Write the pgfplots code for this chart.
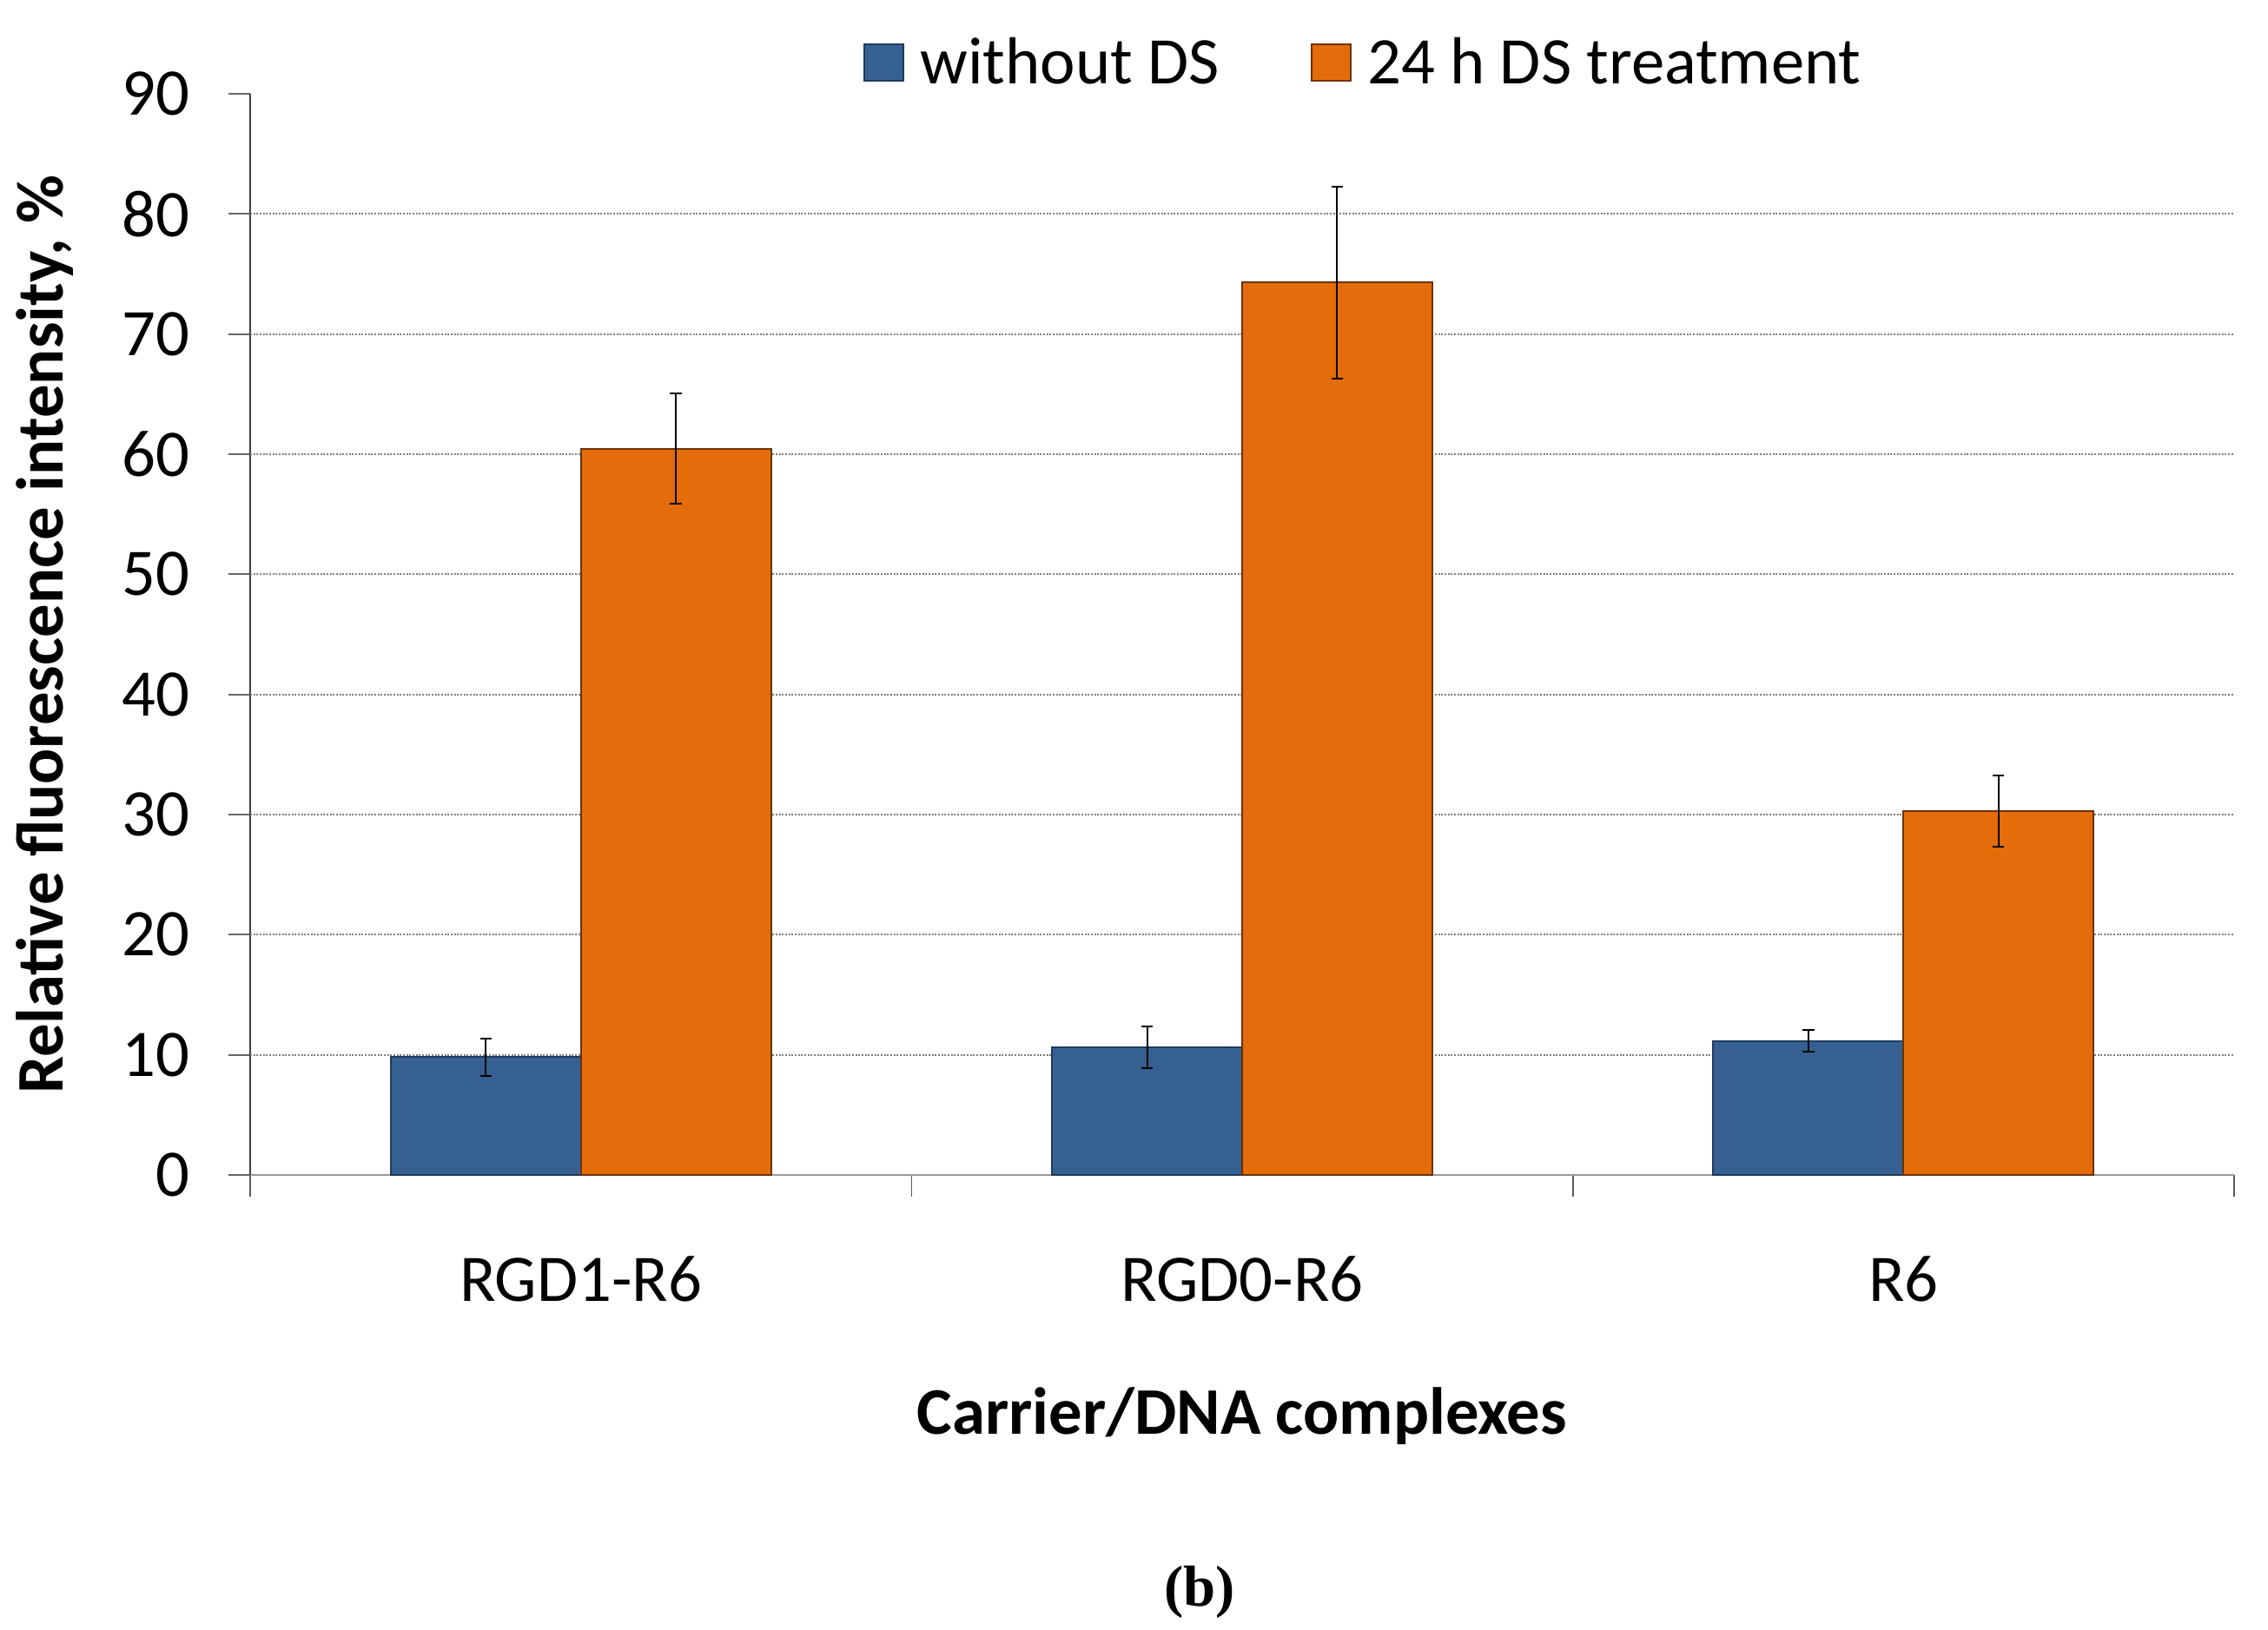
\documentclass[border=0pt]{standalone}
\usepackage{fontspec}
\setmainfont{Carlito}
\newfontfamily\serifb{Liberation Serif}
\usepackage{pgfplots}
\usepackage{pgfplotstable}
\pgfplotsset{compat=1.18}

\definecolor{barblue}{HTML}{376092}
\definecolor{barblueedge}{HTML}{1F3A5F}
\definecolor{barorange}{HTML}{E46C0A}
\definecolor{barorangeedge}{HTML}{6B3205}
\definecolor{gridgray}{HTML}{7F7F7F}

\pgfplotstableread{
x  blue  blueerr  orange  orangeerr
0  9.8   1.56     60.45   4.6
1  10.6  1.73     74.3    8.0
2  11.15 0.9      30.3    2.95
}\datatab

\newcommand\bigfont{\fontsize{23}{27}\selectfont}

\begin{document}
\begin{tikzpicture}
% 1 px of the reference = 0.3pt
\path[use as bounding box] (0,0) rectangle (783.3pt,562.8pt);
\begin{axis}[
  at={(86.4pt,156.9pt)}, anchor=south west,
  scale only axis,
  width=685.2pt, height=373.5pt,
  ybar=0pt,
  bar width=0.2875,
  xmin=-0.5, xmax=2.5,
  ymin=0, ymax=90,
  ytick={0,10,...,90},
  extra y ticks={10,20,...,80},
  extra y tick labels={},
  extra y tick style={ymajorgrids=true, major tick length=0pt},
  % category boundaries carry the ticks, names sit on extra ticks
  xtick={-0.5,0.5,1.5,2.5},
  xticklabels={},
  xtick align=outside,
  xtick style={gridgray!70!black, line width=0.5pt},
  extra x ticks={0,1,2},
  extra x tick labels={RGD1-R6,RGD0-R6,R6},
  extra x tick style={major tick length=0pt,
    xticklabel style={yshift=-24.5pt}},
  axis x line*=bottom,
  axis y line*=left,
  x axis line style={gray!80, line width=0.8pt, -},
  y axis line style={black!75, line width=0.5pt, -},
  major tick length=7.5pt,
  ytick align=outside,
  ytick style={gray!80!black, line width=0.6pt},
  grid style={gridgray, line width=0.6pt, dash pattern=on 0.6pt off 0.5pt},
  tick label style={font=\bigfont},
  /pgf/number format/assume math mode=true,
  yticklabel style={xshift=-10pt},
  xlabel={\textbf{Carrier/DNA complexes}},
  ylabel={\textbf{Relative fluorescence intensity, \%}},
  label style={font=\bigfont},
  xlabel style={at={(axis description cs:0.5,-0.2233)}, anchor=center},
  ylabel style={at={(axis description cs:-0.1033,0.5)}, anchor=center},
  legend columns=2,
  legend style={draw=none, fill=none, font=\bigfont,
    at={(axis description cs:0.562,1.029)}, anchor=center,
    /tikz/every odd column/.append style={column sep=3.5pt},
    /tikz/every even column/.append style={column sep=29.5pt}},
  legend image code/.code={\draw[#1] (0pt,-6.3pt) rectangle (13.5pt,6.3pt);},
  error bars/error bar style={black, line width=0.6pt},
  error bars/error mark options={black, rotate=90, mark size=2pt, line width=0.6pt},
]
\addplot[fill=barblue, draw=barblueedge, line width=0.6pt,
  error bars/.cd, y dir=both, y explicit]
  table[x=x, y=blue, y error=blueerr] {\datatab};
\addplot[fill=barorange, draw=barorangeedge, line width=0.6pt,
  error bars/.cd, y dir=both, y explicit]
  table[x=x, y=orange, y error=orangeerr] {\datatab};
\legend{without DS, 24 h DS treatment}
\end{axis}
\node[font=\serifb\bfseries\fontsize{20}{24}\selectfont] at (414.3pt,12.9pt) {(b)};
\end{tikzpicture}
\end{document}
